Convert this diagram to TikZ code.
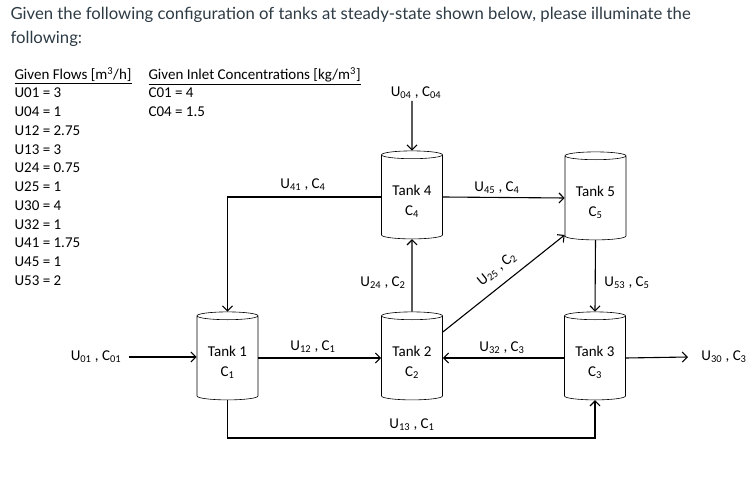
\documentclass[tikz,border=0pt]{standalone}
\usepackage{fontspec}
\setmainfont{Carlito}
\newfontfamily\titlefont{Lato}
\usepackage{tikz}
\usetikzlibrary{arrows.meta, shapes.geometric, calc}
\definecolor{titlegrey}{RGB}{45,59,69}

\begin{document}
\begin{tikzpicture}[x=1pt, y=-1pt, every node/.style={font=\fontsize{15}{18}\selectfont},
  tank/.style={cylinder, shape border rotate=90, draw, line width=0.6pt, aspect=0.2,
    minimum width=61pt, minimum height=88pt, inner sep=0pt, align=center,
    font=\fontsize{15}{20}\selectfont},
  flow/.style={line width=1.1pt, -{Straight Barb[length=5pt, width=10pt]}}]
\useasboundingbox (0,0) rectangle (755,478);

% question text
\path (7,20) node[anchor=base west, text=titlegrey, font=\titlefont\fontsize{16.7}{20}\selectfont] (q1)
  {Given the following configuration of tanks at steady-state shown below, please illuminate the};
\path (7,44) node[anchor=base west, text=titlegrey, font=\titlefont\fontsize{16.7}{20}\selectfont] (q2) {following:};

% given data
\path (11,80) node[anchor=base west] (hflows) {\underline{Given Flows [m\textsuperscript{3}/h]}};
\path (145,80) node[anchor=base west] (hconc) {\underline{Given Inlet Concentrations [kg/m\textsuperscript{3}]}};
\foreach \txt [count=\i] in {U01 = 3, U04 = 1, U12 = 2.75, U13 = 3, U24 = 0.75, U25 = 1,
    U30 = 4, U32 = 1, U41 = 1.75, U45 = 1, U53 = 2}
  \path (11,{98+18.75*(\i-1)}) node[anchor=base west] (l\i) {\txt};
\path (145,98) node[anchor=base west] (c1) {C01 = 4};
\path (145,116.75) node[anchor=base west] (c2) {C04 = 1.5};

% tanks
\node[tank] (t1) at (227.5,358) {\rule{0pt}{19pt}Tank 1\\C\textsubscript{1}};
\node[tank] (t2) at (412,358) {\rule{0pt}{19pt}Tank 2\\C\textsubscript{2}};
\node[tank] (t3) at (595,358) {\rule{0pt}{19pt}Tank 3\\C\textsubscript{3}};
\node[tank] (t4) at (412,197) {\rule{0pt}{19pt}Tank 4\\C\textsubscript{4}};
\node[tank] (t5) at (595.5,198) {\rule{0pt}{19pt}Tank 5\\C\textsubscript{5}};

% free ends
\coordinate (u01) at (129,357);
\coordinate (u04) at (412,101);
\coordinate (u30) at (688,357);
\coordinate (u13) at (412,438);

\draw[flow] (u01) -- (u01 -| t1.west);
\draw[flow] (u04) -- (t4.north);
\draw[flow] (t1.east) -- (t2.west);
\draw[flow] (t3.west) -- (t2.east);
\draw[flow] (t3.east) -- (u30);
\draw[flow] (t2.north) -- (t4.south);
\draw[flow] (t4.east) -- (t5.west);
\draw[flow] (t5.south) -- (t3.north);
\draw[flow] (t4.west) -| (t1.north);
\draw[flow] (t1.south) |- (u13) -| (t3.south);
\draw[flow] ($(t2.east)+(0,-26)$) -- ($(t5.west)+(0,37)$);

% stream labels
\path (96,357) node (lu01) {U\textsubscript{01} , C\textsubscript{01}};
\path (416,93) node (lu04) {U\textsubscript{04} , C\textsubscript{04}};
\path (313,347) node (lu12) {U\textsubscript{12} , C\textsubscript{1}};
\path (502,348) node (lu32) {U\textsubscript{32} , C\textsubscript{3}};
\path (724,357) node (lu30) {U\textsubscript{30} , C\textsubscript{3}};
\path (412,425) node (lu13) {U\textsubscript{13} , C\textsubscript{1}};
\path (383,283) node (lu24) {U\textsubscript{24} , C\textsubscript{2}};
\path (627,283) node (lu53) {U\textsubscript{53} , C\textsubscript{5}};
\path (303,185) node (lu41) {U\textsubscript{41} , C\textsubscript{4}};
\path (497,188) node (lu45) {U\textsubscript{45} , C\textsubscript{4}};
\path (497,269) node[rotate=39] (lu25) {U\textsubscript{25} , C\textsubscript{2}};
\end{tikzpicture}
\end{document}
